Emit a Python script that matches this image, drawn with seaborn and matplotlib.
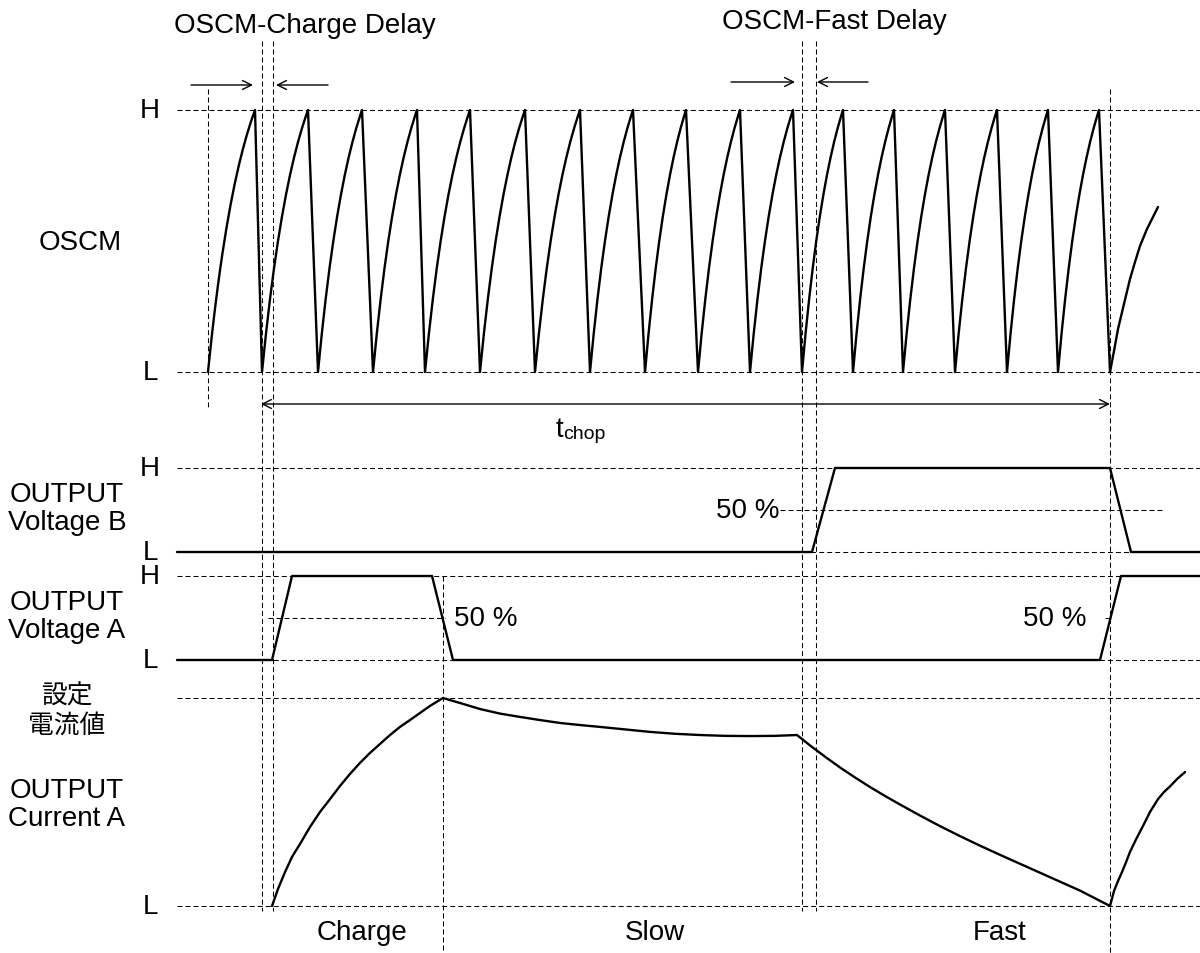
import numpy as np
import pandas as pd
import matplotlib
matplotlib.use("Agg")
import matplotlib.pyplot as plt
import seaborn as sns

# ---------------------------------------------------------------------------
# Signal data (time runs left to right, levels are 0 = L, 1 = H)
# ---------------------------------------------------------------------------
# OSCM sawtooth: start of each ramp (valley) and its top (peak)
osc_valleys = [208, 262, 318, 373, 425, 480, 535, 590, 645, 698, 750, 802,
               853, 903, 955, 1007, 1058, 1110]
osc_peaks = [255, 308, 362, 417, 470, 525, 580, 633, 686, 740, 793, 843,
             894, 945, 997, 1048, 1099]
# last, unfinished ramp
osc_tail_t = [1110, 1114, 1118, 1124, 1130, 1135, 1140, 1147, 1152, 1158]
osc_tail_lv = [0.0, 0.08, 0.164, 0.26, 0.355, 0.42, 0.481, 0.546, 0.584, 0.63]

# OUTPUT Voltage B
vb_t = [177, 812, 835, 1110, 1131, 1200]
vb_lv = [0, 0, 1, 1, 0, 0]

# OUTPUT Voltage A
va_t = [177, 272, 292, 432, 453, 1100, 1121, 1200]
va_lv = [0, 0, 1, 1, 0, 0, 1, 1]

# OUTPUT Current A (1 = set current value)
# charge phase
chg_t = [272, 278, 285, 292, 300, 310, 320, 330, 340, 350, 360, 370, 380,
         390, 400, 410, 420, 430, 443]
chg_lv = [0.0, 0.082, 0.163, 0.236, 0.298, 0.380, 0.452, 0.514, 0.577, 0.635,
          0.688, 0.736, 0.779, 0.822, 0.861, 0.894, 0.928, 0.962, 1.0]
# slow decay
slow_t = [460, 480, 500, 520, 540, 560, 580, 600, 625, 650, 675, 700, 725,
          750, 775, 797]
slow_lv = [0.976, 0.947, 0.925, 0.909, 0.894, 0.880, 0.870, 0.861, 0.849,
           0.837, 0.828, 0.822, 0.818, 0.817, 0.818, 0.822]
# fast decay
fast_t = [810, 825, 840, 855, 870, 885, 900, 920, 940, 960, 980, 1000, 1020,
          1040, 1060, 1080, 1095, 1110]
fast_lv = [0.772, 0.718, 0.666, 0.618, 0.572, 0.529, 0.488, 0.435, 0.384,
           0.336, 0.290, 0.246, 0.203, 0.160, 0.117, 0.074, 0.037, 0.0]
# next charge
next_t = [1114, 1118, 1122, 1126, 1130, 1136, 1143, 1150, 1158, 1164, 1170,
          1177, 1185]
next_lv = [0.072, 0.12, 0.163, 0.21, 0.26, 0.32, 0.385, 0.452, 0.514, 0.548,
           0.575, 0.61, 0.644]

# event markers
t_osc_start = 208
t_charge = [262, 273]
t_fast = [802, 816]
t_slow = 443
t_end = 1110

# ---------------------------------------------------------------------------
# Layout: vertical position of L and H for every row
# ---------------------------------------------------------------------------
ROW = {
    "osc": (373, 111),
    "vb": (553, 469),
    "va": (661, 577),
    "cur": (907, 699),
}
X0, X1 = 177, 1200


def to_y(row, lv):
    lo, hi = ROW[row]
    return lo + (hi - lo) * np.asarray(lv, dtype=float)


def ramp_shape(n=24, a=1.3):
    u = np.linspace(0, 1, n)
    return u, (1 - np.exp(-a * u)) / (1 - np.exp(-a))


sns.set_theme(style="white")
plt.rcParams["font.family"] = ["Liberation Sans", "Noto Sans CJK JP", "DejaVu Sans"]
plt.rcParams["text.color"] = "black"

fig = plt.figure(figsize=(12, 9.54), dpi=100)
ax = fig.add_axes([0, 0, 1, 1])

DASH = dict(color="black", lw=0.75, linestyle=(0, (4.8, 2.9)))
SOLID = dict(color="black", lw=1.7)

# horizontal guide lines
for row in ROW:
    for y in ROW[row]:
        ax.plot([X0, X1], [y, y], **DASH)
# 50 % guides
ax.plot([780, 1165], [to_y("vb", 0.5)] * 2, **DASH)
ax.plot([268, 445], [to_y("va", 0.5)] * 2, **DASH)
ax.plot([1105, 1113], [to_y("va", 0.5)] * 2, **DASH)

# vertical guide lines
ax.plot([t_osc_start] * 2, [90, 410], **DASH)
for t in t_charge + t_fast:
    ax.plot([t, t], [42, 912], **DASH)
ax.plot([t_end] * 2, [90, 954], **DASH)
ax.plot([t_slow] * 2, [577, 954], **DASH)

# OSCM sawtooth
u, f = ramp_shape()
xs, ys = [], []
for i, p in enumerate(osc_peaks):
    v = osc_valleys[i]
    xs.extend(v + (p - v) * u)
    ys.extend(f)
xs.append(osc_valleys[-1])
ys.append(0.0)
osc = pd.DataFrame({"t": xs, "y": to_y("osc", ys)})
sns.lineplot(data=osc, x="t", y="y", sort=False, estimator=None, ax=ax, **SOLID)
tail = pd.DataFrame({"t": osc_tail_t, "y": to_y("osc", osc_tail_lv)})
sns.lineplot(data=tail, x="t", y="y", sort=False, estimator=None, ax=ax, **SOLID)

# digital outputs and current
cur_t = chg_t + slow_t + fast_t + next_t
cur_lv = chg_lv + slow_lv + fast_lv + next_lv
for row, t, lv in [("vb", vb_t, vb_lv), ("va", va_t, va_lv), ("cur", cur_t, cur_lv)]:
    df = pd.DataFrame({"t": t, "y": to_y(row, lv)})
    sns.lineplot(data=df, x="t", y="y", sort=False, estimator=None, ax=ax, **SOLID)

ax.set_xlim(0, 1200)
ax.set_ylim(954, 0)
ax.axis("off")

# delay arrows
AP = dict(arrowstyle="->", color="black", lw=1.0, mutation_scale=16, shrinkA=0, shrinkB=0)
ax.annotate("", xy=(253, 86), xytext=(191, 86), arrowprops=AP)
ax.annotate("", xy=(276, 86), xytext=(328, 86), arrowprops=AP)
ax.annotate("", xy=(795, 83), xytext=(731, 83), arrowprops=AP)
ax.annotate("", xy=(817, 83), xytext=(868, 83), arrowprops=AP)
AP2 = dict(AP, arrowstyle="<->")
ax.annotate("", xy=(t_end, 405), xytext=(t_charge[0] - 1, 405), arrowprops=AP2)

FS = 20
ax.text(305, 26, "OSCM-Charge Delay", ha="center", va="center", fontsize=FS)
ax.text(834, 22, "OSCM-Fast Delay", ha="center", va="center", fontsize=FS)

# level letters
for row in ["osc", "vb", "va", "cur"]:
    lo, hi = ROW[row]
    ax.text(150, lo, "L", ha="center", va="center", fontsize=FS)
    if row != "cur":
        ax.text(150, hi, "H", ha="center", va="center", fontsize=FS)

# row names
ax.text(80, 243, "OSCM", ha="center", va="center", fontsize=FS)
ax.text(67, 509, "OUTPUT\nVoltage B", ha="center", va="center", fontsize=FS, linespacing=1.12)
ax.text(67, 617, "OUTPUT\nVoltage A", ha="center", va="center", fontsize=FS, linespacing=1.12)
ax.text(67, 711, "設定\n電流値", ha="center", va="center", fontsize=18.5, linespacing=1.25)
ax.text(67, 805, "OUTPUT\nCurrent A", ha="center", va="center", fontsize=FS, linespacing=1.12)

# t_chop
ax.text(563, 437, "t", ha="right", va="baseline", fontsize=FS)
ax.text(563, 439, "chop", ha="left", va="baseline", fontsize=14)

# 50 % labels
ax.text(748, 511, "50 %", ha="center", va="center", fontsize=FS)
ax.text(486, 619, "50 %", ha="center", va="center", fontsize=FS)
ax.text(1055, 619, "50 %", ha="center", va="center", fontsize=FS)

# phase names
ax.text(362, 933, "Charge", ha="center", va="center", fontsize=FS)
ax.text(655, 933, "Slow", ha="center", va="center", fontsize=FS)
ax.text(1000, 933, "Fast", ha="center", va="center", fontsize=FS)

fig.savefig("out.png", dpi=100)
